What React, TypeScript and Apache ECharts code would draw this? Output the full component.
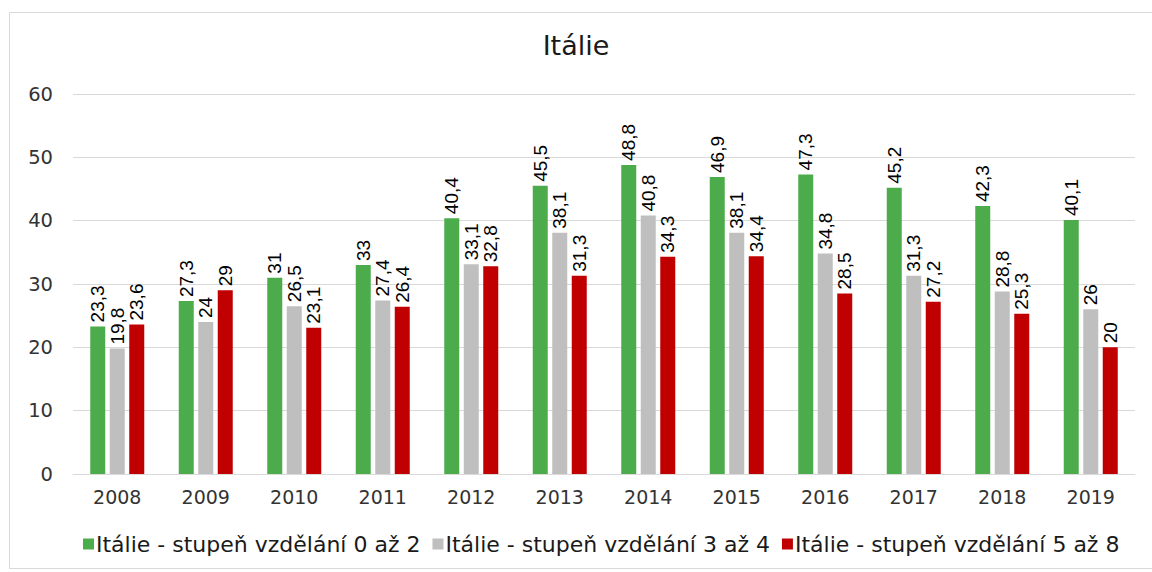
import React, { useEffect, useRef } from "react";
import * as echarts from "echarts";

const categories = ["2008", "2009", "2010", "2011", "2012", "2013", "2014", "2015", "2016", "2017", "2018", "2019"];
const seriesNames = [
  "Itálie - stupeň vzdělání 0 až 2",
  "Itálie - stupeň vzdělání 3 až 4",
  "Itálie - stupeň vzdělání 5 až 8",
];
const green = [23.3, 27.3, 31, 33, 40.4, 45.5, 48.8, 46.9, 47.3, 45.2, 42.3, 40.1];
const grey = [19.8, 24, 26.5, 27.4, 33.1, 38.1, 40.8, 38.1, 34.8, 31.3, 28.8, 26];
const red = [23.6, 29, 23.1, 26.4, 32.8, 31.3, 34.3, 34.4, 28.5, 27.2, 25.3, 20];
const colors = ["#4CAC4C", "#BFBFBF", "#C00000"];

const WIDE = "'DejaVu Sans', 'Open Sans', sans-serif";
const LABEL = "'Liberation Sans', Arial, sans-serif";

export default function App() {
  const ref = useRef<HTMLDivElement>(null);
  useEffect(() => {
    if (!ref.current) return;
    const chart = echarts.init(ref.current, null, { renderer: "svg" });
    const datasets = [green, grey, red];
    chart.setOption({
      animation: false,
      backgroundColor: "#fff",
      textStyle: { fontFamily: WIDE },
      title: {
        text: "Itálie",
        left: "center",
        top: 27,
        textStyle: { fontFamily: WIDE, fontSize: 27, fontWeight: "normal", color: "#1a1a1a" },
      },
      graphic: [
        {
          type: "rect",
          shape: { x: 9.5, y: 12.5, width: 1150, height: 556 },
          style: { fill: "none", stroke: "#D9D9D9", lineWidth: 1 },
          silent: true,
        },
      ],
      legend: {
        bottom: 12,
        left: 78,
        itemWidth: 11,
        itemHeight: 11,
        itemGap: 12,
        icon: "rect",
        textStyle: { fontFamily: WIDE, fontSize: 22, color: "#1a1a1a", padding: [0, 0, 0, -3] },
        data: seriesNames,
      },
      grid: { left: 73, right: 17, top: 94, bottom: 98, containLabel: false },
      xAxis: {
        type: "category",
        data: categories,
        axisLine: { lineStyle: { color: "#D9D9D9", width: 1 } },
        axisTick: { show: false },
        axisLabel: { fontFamily: WIDE, fontSize: 19, color: "#333", margin: 13 },
      },
      yAxis: {
        type: "value",
        min: 0,
        max: 60,
        interval: 10,
        axisLine: { show: false },
        axisTick: { show: false },
        splitLine: { lineStyle: { color: "#D9D9D9", width: 1 } },
        axisLabel: { fontFamily: WIDE, fontSize: 19.5, color: "#333", margin: 20 },
      },
      series: datasets.map((d, i) => ({
        name: seriesNames[i],
        type: "bar",
        data: d,
        barWidth: 15,
        barGap: "30%",
        itemStyle: { color: colors[i] },
        label: {
          show: true,
          position: "top",
          rotate: 90,
          align: "left",
          verticalAlign: "middle",
          distance: 4,
          fontFamily: LABEL,
          fontSize: 19,
          color: "#000",
          formatter: (p: any) => String(p.value).replace(".", ","),
        },
      })),
    });
    return () => chart.dispose();
  }, []);
  return (
    <div
      ref={ref}
      style={{ position: "absolute", left: 0, top: 0, width: 1152, height: 572 }}
    />
  );
}
